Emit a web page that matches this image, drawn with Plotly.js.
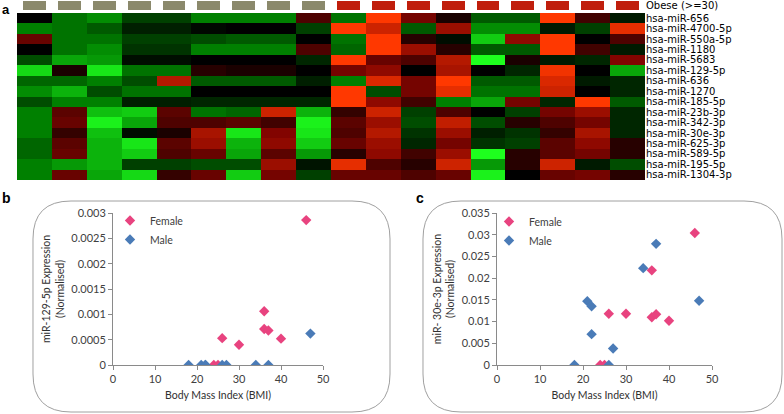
<!DOCTYPE html>
<html>
<head>
<meta charset="utf-8">
<script src="https://cdn.plot.ly/plotly-3.0.1.min.js"></script>
<style>html,body{margin:0;padding:0;background:#fff;}#chart{width:784px;height:414px;}</style>
</head>
<body>
<div id="chart"></div>
<script>
// ---------- Panel a: heatmap data ----------
const mirnas = ['hsa-miR-656','hsa-miR-4700-5p','hsa-miR-550a-5p','hsa-miR-1180','hsa-miR-5683',
  'hsa-miR-129-5p','hsa-miR-636','hsa-miR-1270','hsa-miR-185-5p','hsa-miR-23b-3p','hsa-miR-342-3p',
  'hsa-miR-30e-3p','hsa-miR-625-3p','hsa-miR-589-5p','hsa-miR-195-5p','hsa-miR-1304-3p'];
const samples = [1,2,3,4,5,6,7,8,9,10,11,12,13,14,15,16,17,18];
const obeseGroup = [0,0,0,0,0,0,0,0,0,1,1,1,1,1,1,1,1,1];
const groupLabel = ['Obese (>=30)'];
// one array per sample (column), values top row -> bottom row (negative = green, positive = red)
const sampleExpr = [
  [0,-0.5,0.4,0,-0.3,-0.85,-0.4,-0.55,-0.3,-0.5,-0.5,-0.5,-0.4,-0.4,-0.5,-0.5],
  [-0.45,-0.45,-0.45,-0.45,-0.65,0.1,-0.4,-0.7,-0.5,0.35,0.4,0.2,0.35,0.4,-0.6,0.4],
  [-0.55,-0.35,-0.45,-0.55,-0.6,-0.9,-0.5,-0.3,-0.5,-0.75,-0.95,-0.75,-0.7,-0.7,-0.7,-0.65],
  [-0.25,-0.12,-0.25,-0.2,-0.05,-0.45,-0.3,-0.45,-0.12,-0.8,-0.65,-0.05,-0.9,-0.8,-0.25,-0.85],
  [-0.25,-0.12,-0.25,-0.2,-0.05,-0.45,0.7,-0.45,-0.12,0.35,0.3,0.1,0.35,0.3,-0.25,0.2],
  [-0.5,-0.03,-0.3,-0.5,0,0.15,-0.35,0,-0.15,-0.45,0.3,0.65,0.6,0.4,-0.3,0.4],
  [-0.5,0,-0.35,-0.5,0,0.1,-0.35,0,-0.15,-0.4,0.35,-0.9,-0.7,-0.65,-0.3,-0.8],
  [-0.5,0,-0.35,-0.5,0,0.1,-0.35,0,-0.15,0.8,0.25,0.5,0.55,0.35,0.6,0.45],
  [0.3,-0.25,0,0.3,-0.15,0,-0.12,0,-0.15,-0.7,-0.95,-0.9,-0.8,-0.6,-0.08,-0.25],
  [-0.45,1,-0.45,-0.4,1,0.45,-0.5,1,1,0.2,0.35,0.3,0.4,0.15,0.9,0.4],
  [1,0.8,1,1,0.4,0.55,0.85,-0.3,0.55,0.8,0.6,0.7,0.6,0.55,0.3,0.4],
  [0.45,-0.35,0.15,0.6,0.3,0,0.45,0.45,0.25,-0.25,-0.3,-0.2,-0.15,0.25,0.15,0.3],
  [0.1,0.6,-0.05,0.15,0.7,0.65,1,0.9,-0.5,0.3,0.75,0.6,0.45,0.6,0.8,0.4],
  [-0.35,-0.55,-0.8,-0.35,-1,0,-0.35,-0.45,-0.65,0,-0.3,-0.12,-0.2,-1,-0.6,-0.95],
  [-0.35,-0.55,0.55,-0.35,0.1,-0.15,-0.35,-0.45,0.45,-0.25,0.15,-0.2,-0.25,0.15,0.15,0],
  [1,-0.1,1,1,-0.1,0.95,0.85,0.8,-0.15,0.45,0.3,0.2,0.35,0.35,0.8,0.4],
  [0.25,-0.25,0,0.25,-0.15,0,-0.1,0,1,0.6,0.45,0.65,0.55,0.45,-0.1,0.45],
  [-0.1,0.9,0.3,-0.1,0.5,-0.65,-0.15,-0.15,-0.35,-0.15,-0.15,-0.15,0.15,0.15,-0.3,0.15]
];

// ---------- Panel b / c: scatter data ----------
const femaleBMI_b = [24,25,26,30,36,36,37,40,46];
const femaleExpr_b = [0,0,0.00053,0.0004,0.00106,0.00071,0.00068,0.00052,0.00286];
const maleBMI_b = [18,21,22,22,26,27,34,37,47];
const maleExpr_b = [0,0,0,0,0,0,0,0,0.00062];

const femaleBMI_c = [24,25,26,30,36,36,37,40,46];
const femaleExpr_c = [0,0,0.0118,0.0118,0.0110,0.0218,0.0117,0.0102,0.0304];
const maleBMI_c = [18,21,22,22,26,27,34,37,47];
const maleExpr_c = [0,0.0147,0.0135,0.0071,0,0.0038,0.0223,0.0279,0.0148];

const bmiTicks = [0,10,20,30,40,50];
const bTickVals = [0,0.0005,0.001,0.0015,0.002,0.0025,0.003];
const bTickText = ['0','0.0005','0.001','0.0015','0.002','0.0025','0.003'];
const cTickVals = [0,0.005,0.01,0.015,0.02,0.025,0.03,0.035];
const cTickText = ['0','0.005','0.01','0.015','0.02','0.025','0.03','0.035'];

// ---------- helpers ----------
const W = 784, H = 414;
const px = x => x / W;
const py = y => 1 - y / H;
const zRows = mirnas.map((m, r) => sampleExpr.map(col => col[r]));

function roundRect(x0, y0, x1, y1, r) {
  const X = v => px(v).toFixed(5), Y = v => py(v).toFixed(5);
  return 'M' + X(x0 + r) + ',' + Y(y0) +
    ' L' + X(x1 - r) + ',' + Y(y0) +
    ' Q' + X(x1) + ',' + Y(y0) + ' ' + X(x1) + ',' + Y(y0 + r) +
    ' L' + X(x1) + ',' + Y(y1 - r) +
    ' Q' + X(x1) + ',' + Y(y1) + ' ' + X(x1 - r) + ',' + Y(y1) +
    ' L' + X(x0 + r) + ',' + Y(y1) +
    ' Q' + X(x0) + ',' + Y(y1) + ' ' + X(x0) + ',' + Y(y1 - r) +
    ' L' + X(x0) + ',' + Y(y0 + r) +
    ' Q' + X(x0) + ',' + Y(y0) + ' ' + X(x0 + r) + ',' + Y(y0) + ' Z';
}

const FEMALE = '#e8437f', MALE = '#4a7bb7';
const SANS = 'Lato, "Open Sans", sans-serif';
const tickFont = {family: SANS, size: 11, color: '#404040'};
const titleFont = {family: SANS, size: 10.5, color: '#303030'};
const heatFont = {family: '"DejaVu Sans", Verdana, sans-serif', size: 10, color: '#000'};

const traces = [
  {type: 'heatmap', x: samples, y: groupLabel, z: [obeseGroup], xaxis: 'x2', yaxis: 'y2',
   colorscale: [[0, '#8b896c'], [1, '#c01e0c']], zmin: 0, zmax: 1, showscale: false, xgap: 12, hoverinfo: 'skip'},
  {type: 'heatmap', x: samples, y: mirnas, z: zRows, xaxis: 'x', yaxis: 'y',
   colorscale: [[0, 'rgb(30,255,30)'], [0.25, 'rgb(0,128,0)'], [0.5, 'rgb(0,0,0)'], [0.75, 'rgb(130,4,0)'], [1, 'rgb(255,56,0)']],
   zmin: -1, zmax: 1, showscale: false},
  {type: 'scatter', mode: 'markers', name: 'Female', x: femaleBMI_b, y: femaleExpr_b, xaxis: 'x3', yaxis: 'y3',
   marker: {symbol: 'diamond', size: 8, color: FEMALE}, legend: 'legend'},
  {type: 'scatter', mode: 'markers', name: 'Male', x: maleBMI_b, y: maleExpr_b, xaxis: 'x3', yaxis: 'y3',
   marker: {symbol: 'diamond', size: 8, color: MALE}, legend: 'legend'},
  {type: 'scatter', mode: 'markers', name: 'Female', x: femaleBMI_c, y: femaleExpr_c, xaxis: 'x4', yaxis: 'y4',
   marker: {symbol: 'diamond', size: 8, color: FEMALE}, legend: 'legend2'},
  {type: 'scatter', mode: 'markers', name: 'Male', x: maleBMI_c, y: maleExpr_c, xaxis: 'x4', yaxis: 'y4',
   marker: {symbol: 'diamond', size: 8, color: MALE}, legend: 'legend2'}
];

function scatterX(dom, anchor) {
  return {domain: dom, anchor: anchor, range: [0, 50], tickvals: bmiTicks, showline: true, linecolor: '#8a8a8a',
    ticks: 'outside', ticklen: 4, tickcolor: '#8a8a8a', showgrid: false, zeroline: false, tickfont: tickFont,
    title: {text: 'Body Mass Index (BMI)', font: titleFont, standoff: 7}};
}
function scatterY(dom, anchor, range, tv, tt, title) {
  return {domain: dom, anchor: anchor, range: range, tickvals: tv, ticktext: tt, showline: true, linecolor: '#8a8a8a',
    ticks: 'outside', ticklen: 4, tickcolor: '#8a8a8a', showgrid: false, zeroline: false, tickfont: tickFont,
    title: {text: title, font: titleFont, standoff: 4}};
}

const scatY = [py(365), py(213)];
const layout = {
  width: W, height: H, margin: {l: 0, r: 0, t: 0, b: 0}, paper_bgcolor: '#fff', plot_bgcolor: 'rgba(0,0,0,0)',
  showlegend: true,
  xaxis: {domain: [px(17), px(645)], anchor: 'y', showticklabels: false, ticks: '', showgrid: false, zeroline: false},
  yaxis: {domain: [py(180), py(13)], anchor: 'x', side: 'right', autorange: 'reversed', ticks: '', showgrid: false,
    zeroline: false, tickmode: 'array', tickvals: mirnas, ticktext: mirnas, tickfont: heatFont},
  xaxis2: {domain: [px(17), px(645)], anchor: 'y2', matches: 'x', showticklabels: false, ticks: '', showgrid: false, zeroline: false},
  yaxis2: {domain: [py(10), py(1)], anchor: 'x2', side: 'right', ticks: '', showgrid: false, zeroline: false,
    tickfont: heatFont},
  xaxis3: scatterX([px(113), px(323)], 'y3'),
  yaxis3: scatterY(scatY, 'x3', [0, 0.003], bTickVals, bTickText, 'miR-129-5p Expression<br>(Normalised)'),
  xaxis4: scatterX([px(497), px(712)], 'y4'),
  yaxis4: scatterY(scatY, 'x4', [0, 0.035], cTickVals, cTickText, 'miR- 30e-3p Expression<br>(Normalised)'),
  legend: {x: px(110), y: py(206), xanchor: 'left', yanchor: 'top', bgcolor: 'rgba(0,0,0,0)',
    font: {family: SANS, size: 10.5, color: '#404040'}, itemwidth: 30, tracegroupgap: 0},
  legend2: {x: px(489), y: py(207), xanchor: 'left', yanchor: 'top', bgcolor: 'rgba(0,0,0,0)',
    font: {family: SANS, size: 10.5, color: '#404040'}, itemwidth: 30, tracegroupgap: 0},
  shapes: [
    {type: 'path', xref: 'paper', yref: 'paper', path: roundRect(33, 201, 390, 412, 38), line: {color: '#a0a0a0', width: 1}, layer: 'below'},
    {type: 'path', xref: 'paper', yref: 'paper', path: roundRect(423, 201, 782, 412, 38), line: {color: '#a0a0a0', width: 1}, layer: 'below'}
  ],
  annotations: [
    {text: '<b>a</b>', xref: 'paper', yref: 'paper', x: 0, y: 1, xanchor: 'left', yanchor: 'top', showarrow: false,
     font: {family: '"Liberation Sans", Arial, sans-serif', size: 13, color: '#000'}},
    {text: '<b>b</b>', xref: 'paper', yref: 'paper', x: 0, y: py(198), xanchor: 'left', yanchor: 'middle', showarrow: false,
     font: {family: '"Liberation Sans", Arial, sans-serif', size: 14, color: '#000'}},
    {text: '<b>c</b>', xref: 'paper', yref: 'paper', x: px(414), y: py(198), xanchor: 'left', yanchor: 'middle', showarrow: false,
     font: {family: '"Liberation Sans", Arial, sans-serif', size: 14, color: '#000'}}
  ]
};

Plotly.newPlot('chart', traces, layout, {displayModeBar: false, staticPlot: true});
</script>
</body>
</html>
